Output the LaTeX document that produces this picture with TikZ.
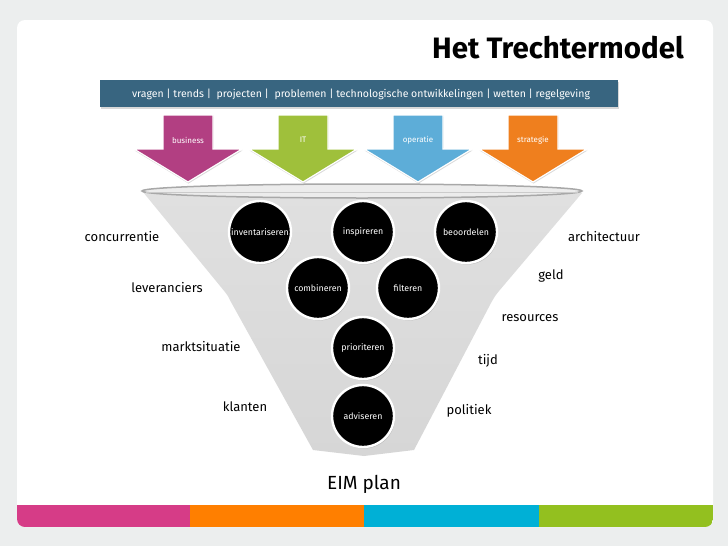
\documentclass[tikz,border=0pt]{standalone}
\usepackage{fontspec}
\setmainfont{Fira Sans}
\usetikzlibrary{shadows}
\definecolor{bgout}{HTML}{ECEEEE}
\definecolor{banner}{HTML}{386580}
\definecolor{cmag}{HTML}{B23F82}
\definecolor{cgreen}{HTML}{9FC03B}
\definecolor{cblue}{HTML}{5DADD8}
\definecolor{corange}{HTML}{EF7F1E}
\definecolor{barmag}{HTML}{D63C87}
\definecolor{barorange}{HTML}{FF7F00}
\definecolor{barcyan}{HTML}{00B0D6}
\definecolor{bargreen}{HTML}{93C01F}
\definecolor{funneltop}{HTML}{E0E0E0}
\definecolor{funnelbot}{HTML}{D6D6D6}
\definecolor{rimfill}{HTML}{ECECEC}
\definecolor{rimline}{HTML}{A8A8A8}
\tikzset{
  stepcircle/.style={circle, fill=black, draw=white, line width=2.4pt, minimum size=62pt, inner sep=0pt,
     drop shadow={shadow xshift=1pt, shadow yshift=-1.5pt, opacity=0.35},
     text=white, font=\fontsize{8.8}{9}\selectfont},
  sidelabel/.style={font=\fontsize{13}{14}\selectfont, text=black, inner sep=0pt},
  arrowlabel/.style={font=\fontsize{8}{9}\selectfont, text=white, inner sep=0pt},
  arrowshape/.style={draw=white, line width=1.2pt, drop shadow={shadow xshift=0.5pt, shadow yshift=-1.5pt, opacity=0.3}},
}
\begin{document}
\begin{tikzpicture}[x=1pt, y=-1pt]
\useasboundingbox (0,0) rectangle (728,546);
\fill[bgout] (0,0) rectangle (728,546);
% panel
\fill[white, rounded corners=8pt] (17,20) rectangle (713,527);
\begin{scope}
  \clip[rounded corners=8pt] (17,20) rectangle (713,527);
  \fill[barmag] (17,505) rectangle (190,527);
  \fill[barorange] (190,505) rectangle (364,527);
  \fill[barcyan] (364,505) rectangle (539,527);
  \fill[bargreen] (539,505) rectangle (713,527);
\end{scope}
% title
\node[anchor=base east, inner sep=0pt, font=\fontsize{29.5}{30}\selectfont\bfseries] (title) at (684,58) {Het Trechtermodel};
% banner
\fill[banner, drop shadow={shadow xshift=1pt, shadow yshift=-2pt, opacity=0.3}] (100,80) rectangle (618,107);
\node[inner sep=0pt, text=white, font=\fontsize{10.5}{11}\selectfont] (banner) at (361,94) {vragen | trends |\ \ projecten |\ \ problemen | technologische ontwikkelingen | wetten | regelgeving};
% arrows
\foreach \cx/\col/\lab/\nm in {188/cmag/business/abus, 303/cgreen/IT/ait, 418/cblue/operatie/aop, 533/corange/strategie/astr}{
  \fill[\col, arrowshape] (\cx-25,115) -- (\cx+25,115) -- (\cx+25,149) -- (\cx+54,149) -- (\cx,182) -- (\cx-54,149) -- (\cx-25,149) -- cycle;
  \node[arrowlabel] (\nm) at (\cx,140) {\lab};
}
% funnel body
\shade[top color=funneltop, bottom color=funnelbot]
  (143,192) -- (225,292) .. controls (228,296) .. (231,302) -- (313,450) -- (364,456) -- (414,450) -- (491,303) .. controls (495,296) .. (499,291) -- (582,193) -- cycle;
\fill[rimfill, draw=rimline, line width=1.5pt] (362,191) ellipse [x radius=220, y radius=7];
\draw[rimline!60, line width=0.8pt] (146,192) -- (578,192);
% circles
\node[stepcircle] (inv) at (260,232) {inventariseren};
\node[stepcircle] (insp) at (363,232) {inspireren};
\node[stepcircle] (beo) at (466,232) {beoordelen};
\node[stepcircle] (comb) at (318,288) {combineren};
\node[stepcircle] (filt) at (408,288) {filteren};
\node[stepcircle] (prio) at (363,348) {prioriteren};
\node[stepcircle] (adv) at (363,416) {adviseren};
% side labels
\node[sidelabel] (conc) at (122,237) {concurrentie};
\node[sidelabel] (lev) at (167,288) {leveranciers};
\node[sidelabel] (markt) at (201,347) {marktsituatie};
\node[sidelabel] (klant) at (245,407) {klanten};
\node[sidelabel] (arch) at (604,237) {architectuur};
\node[sidelabel] (geld) at (551,276) {geld};
\node[sidelabel] (res) at (530,318) {resources};
\node[sidelabel] (tijd) at (488,361) {tijd};
\node[sidelabel] (pol) at (469,411) {politiek};
\node[inner sep=0pt, font=\fontsize{19}{20}\selectfont] (eim) at (364,484) {EIM plan};
\end{tikzpicture}
\end{document}
